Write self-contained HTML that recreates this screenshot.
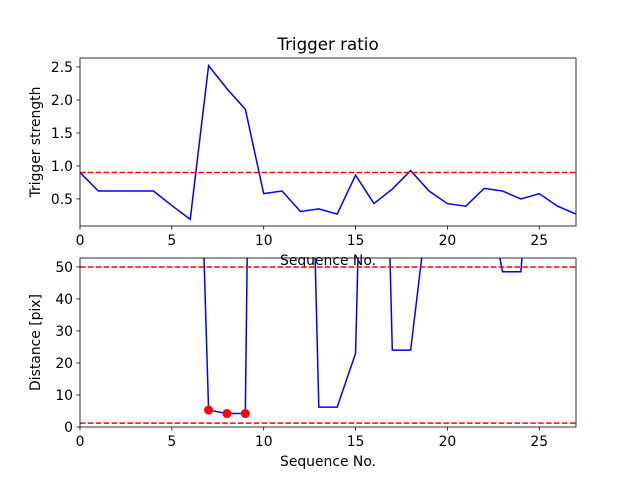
<!DOCTYPE html>
<html><head><meta charset="utf-8"><style>
body{margin:0;background:#fff;font-family:"DejaVu Sans","Liberation Sans",sans-serif}
svg text{font-family:"DejaVu Sans","Liberation Sans",sans-serif;fill:#000}
</style></head><body>
<svg id="c" width="640" height="480"></svg>
<script>
const seqTop=[0,1,2,3,4,5,6,7,8,9,10,11,12,13,14,15,16,17,18,19,20,21,22,23,24,25,26,27];
const strength=[0.9,0.62,0.62,0.62,0.62,0.4,0.19,2.52,2.17,1.86,0.58,0.62,0.31,0.35,0.27,0.86,0.43,0.65,0.93,0.62,0.43,0.39,0.66,0.62,0.5,0.58,0.39,0.27];
const strengthThreshold=0.9;
const seqBot=[6,7,8,9,10,11,12,13,14,15,16,17,18,19,20,21,22,23,24,25,26,27];
const distance=[195,5.3,4.2,4.2,490,400,239,6.2,6.2,23,252,24,24,72,300,300,79,48.5,48.5,120,300,300];
const hitSeq=[7,8,9];
const hitDist=[5.3,4.2,4.2];
const distLines=[50,1.2];
const xTicks=[0,5,10,15,20,25];
const yTicksTop=[0.5,1.0,1.5,2.0,2.5];
const yTicksBot=[0,10,20,30,40,50];

const NS="http://www.w3.org/2000/svg";
const svg=document.getElementById('c');
function mk(t,a,p){const e=document.createElementNS(NS,t);for(const k in a)e.setAttribute(k,a[k]);(p||svg).appendChild(e);return e;}
const L=80,R=576;
const FS=13.9;
const sx=v=>L+(v-0)/27*(R-L);
function panel(top,bot,ymin,ymax,name){
  const sy=v=>bot-(v-ymin)/(ymax-ymin)*(bot-top);
  const g=mk('g',{});
  const cid='clip'+name;const cp=mk('clipPath',{id:cid},g);mk('rect',{x:L,y:top,width:R-L,height:bot-top},cp);
  const plot=mk('g',{'clip-path':'url(#'+cid+')'},g);
  return {sy,g,plot,top,bot};
}
function frame(p,yt,fmt,ylabel,name){
  const f=mk('rect',{x:L,y:p.top,width:R-L,height:p.bot-p.top,fill:'none',stroke:'#000','stroke-width':0.8},p.g);
  
  xTicks.forEach(v=>{const x=sx(v);mk('line',{x1:x,x2:x,y1:p.bot,y2:p.bot+3.5,stroke:'#000','stroke-width':0.8},p.g);
    const t=mk('text',{x:x,y:p.bot+19,'text-anchor':'middle','font-size':FS},p.g);t.textContent=v;
    });
  yt.forEach(v=>{const y=p.sy(v);mk('line',{x1:L-3.5,x2:L,y1:y,y2:y,stroke:'#000','stroke-width':0.8},p.g);
    const t=mk('text',{x:L-7,y:y+5,'text-anchor':'end','font-size':FS},p.g);t.textContent=fmt(v);
    });
  const yl=mk('text',{x:0,y:0,'text-anchor':'middle','font-size':FS,transform:`translate(40,${(p.top+p.bot)/2}) rotate(-90)`},p.g);
  yl.textContent=ylabel;
  const xl=mk('text',{x:(L+R)/2,y:p.bot+39,'text-anchor':'middle','font-size':FS},p.g);
  xl.textContent='Sequence No.';
}
// top panel
const p1=panel(58,226,0.09,2.636,'top-panel');
let l1=mk('polyline',{points:seqTop.map((s,i)=>sx(s)+','+p1.sy(strength[i])).join(' '),fill:'none',stroke:'#0000ff','stroke-width':1.5},p1.plot);

let th=mk('line',{x1:L,x2:R,y1:p1.sy(strengthThreshold),y2:p1.sy(strengthThreshold),stroke:'#ff0000','stroke-width':1.5,'stroke-dasharray':'5.5,2.4'},p1.plot);

// bottom panel
const p2=panel(258,427,0,52.8,'bottom-panel');
let l2=mk('polyline',{points:seqBot.map((s,i)=>sx(s)+','+p2.sy(distance[i])).join(' '),fill:'none',stroke:'#0000ff','stroke-width':1.5},p2.plot);

distLines.forEach(v=>{const d=mk('line',{x1:L,x2:R,y1:p2.sy(v),y2:p2.sy(v),stroke:'#ff0000','stroke-width':1.5,'stroke-dasharray':'5.5,2.4'},p2.plot);
  });
hitSeq.forEach((s,i)=>{const c=mk('circle',{cx:sx(s),cy:p2.sy(hitDist[i]),r:4.5,fill:'#ff0000'},p2.g);
  });
frame(p1,yTicksTop,v=>v.toFixed(1),'Trigger strength','top');
frame(p2,yTicksBot,v=>v,'Distance [pix]','bottom');
const ti=mk('text',{x:(L+R)/2,y:50,'text-anchor':'middle','font-size':16.7});
ti.textContent='Trigger ratio';
</script>
</body></html>
